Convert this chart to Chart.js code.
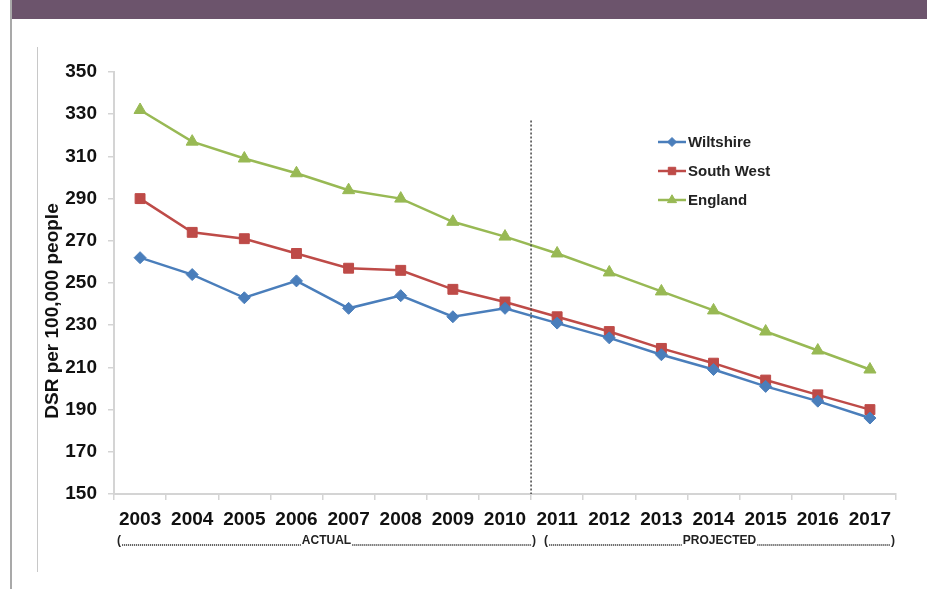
<!DOCTYPE html>
<html>
<head>
<meta charset="utf-8">
<script src="https://cdn.jsdelivr.net/npm/chart.js@4"></script>
<style>
  html, body { margin: 0; padding: 0; background: #fff; }
  body { width: 927px; height: 589px; position: relative; overflow: hidden; font-family: "Liberation Sans", Arial, sans-serif; }
  #leftBar { position: absolute; left: 10px; top: 0; width: 2px; height: 589px; background: #a9a9a9; }
  #header { position: absolute; left: 12px; top: 0; width: 915px; height: 19px; background: #6c546c; }
  #frame { position: absolute; left: 37px; top: 47px; width: 1px; height: 525px; background: #c8c8c8; }
  #wrap { position: absolute; left: 0; top: 0; width: 927px; height: 589px; }
</style>
</head>
<body>
<div id="leftBar"></div>
<div id="header"></div>
<div id="frame"></div>
<div id="wrap"><canvas id="dsrChart" width="927" height="589"></canvas></div>
<script>
// -----------------------------
// Data
// -----------------------------
const years = ["2003", "2004", "2005", "2006", "2007", "2008", "2009", "2010",
               "2011", "2012", "2013", "2014", "2015", "2016", "2017"];
const wiltshire = [262, 254, 243, 251, 238, 244, 234, 238, 231, 224, 216, 209, 201, 194, 186];
const southWest = [290, 274, 271, 264, 257, 256, 247, 241, 234, 227, 219, 212, 204, 197, 190];
const england   = [332, 317, 309, 302, 294, 290, 279, 272, 264, 255, 246, 237, 227, 218, 209];
const yTicks = [150, 170, 190, 210, 230, 250, 270, 290, 310, 330, 350];
const lastActual = 7; // index of 2010
const periodLabels = ["ACTUAL", "PROJECTED"];
const yTitle = "DSR per 100,000 people";

const BLUE = "#4a7ebb";
const RED = "#be4b48";
const GREEN = "#98b954";
const AXIS = "#d4d4d4";
const FONT = "'Liberation Sans', Arial, sans-serif";

// -----------------------------
// Extra drawing: divider, period brackets, legend, y title
// -----------------------------
const extras = {
  id: "extras",
  afterDatasetsDraw(chart) {
    const ctx = chart.ctx;
    const xs = chart.scales.x;
    const ys = chart.scales.y;
    const split = (xs.getPixelForValue(lastActual) + xs.getPixelForValue(lastActual + 1)) / 2;

    // dashed divider
    ctx.save();
    ctx.strokeStyle = "#444";
    ctx.lineWidth = 1.5;
    ctx.setLineDash([2, 2]);
    ctx.beginPath();
    ctx.moveTo(split, ys.getPixelForValue(327));
    ctx.lineTo(split, ys.bottom);
    ctx.stroke();
    ctx.restore();

    // period brackets
    const rowY = 541;
    const groups = [
      [xs.left + 3, split + 5, periodLabels[0]],
      [split + 13, xs.right - 1, periodLabels[1]]
    ];
    ctx.save();
    ctx.fillStyle = "#222";
    ctx.textBaseline = "middle";
    groups.forEach(([x0, x1, label]) => {
      ctx.font = "bold 12px " + FONT;
      ctx.textAlign = "left";
      ctx.fillText("(", x0, rowY);
      ctx.textAlign = "right";
      ctx.fillText(")", x1, rowY);
      ctx.textAlign = "center";
      const mid = (x0 + x1) / 2;
      const w = ctx.measureText(label).width;
      ctx.fillText(label, mid, rowY);
      ctx.strokeStyle = "#333";
      ctx.lineWidth = 1.6;
      ctx.setLineDash([1.2, 0.8]);
      ctx.beginPath();
      ctx.moveTo(x0 + 5, rowY + 4);
      ctx.lineTo(mid - w / 2 - 1, rowY + 4);
      ctx.moveTo(mid + w / 2 + 1, rowY + 4);
      ctx.lineTo(x1 - 5, rowY + 4);
      ctx.stroke();
    });
    ctx.restore();

    // legend
    ctx.save();
    chart.data.datasets.forEach((ds, i) => {
      const y = 142 + i * 29;
      ctx.strokeStyle = ds.borderColor;
      ctx.lineWidth = 2.5;
      ctx.beginPath();
      ctx.moveTo(658, y);
      ctx.lineTo(686, y);
      ctx.stroke();
      ctx.fillStyle = ds.borderColor;
      ctx.lineWidth = 1;
      Chart.helpers.drawPoint(ctx, {
        pointStyle: ds.pointStyle,
        rotation: 0,
        radius: ds.pointRadius * 0.75,
        borderWidth: 1
      }, 672, y);
      ctx.fillStyle = "#222";
      ctx.font = "bold 15px " + FONT;
      ctx.textAlign = "left";
      ctx.textBaseline = "middle";
      ctx.fillText(ds.label, 688, y + 1);
    });
    ctx.restore();

    // y axis title
    ctx.save();
    ctx.translate(53, 311);
    ctx.rotate(-Math.PI / 2);
    ctx.font = "bold 19px " + FONT;
    ctx.fillStyle = "#111";
    ctx.textAlign = "center";
    ctx.textBaseline = "middle";
    ctx.fillText(yTitle, 0, 0);
    ctx.restore();
  }
};

function series(label, data, color, style, radius) {
  return {
    label: label,
    data: data,
    borderColor: color,
    backgroundColor: color,
    borderWidth: 2.5,
    pointStyle: style,
    pointRadius: radius,
    pointBorderWidth: 1,
    tension: 0
  };
}

const dsrChart = new Chart(document.getElementById("dsrChart").getContext("2d"), {
  type: "line",
  data: {
    labels: years,
    datasets: [
      series("Wiltshire", wiltshire, BLUE, "rectRot", 6),
      series("South West", southWest, RED, "rect", 7),
      series("England", england, GREEN, "triangle", 7)
    ]
  },
  options: {
    responsive: false,
    animation: false,
    layout: { padding: { left: 40, top: 72, right: 31, bottom: 0 } },
    plugins: {
      legend: { display: false },
      tooltip: { enabled: false }
    },
    scales: {
      x: {
        offset: true,
        grid: { offset: true, drawOnChartArea: false, tickLength: 6, color: AXIS, lineWidth: 1.5 },
        border: { color: AXIS, width: 2 },
        ticks: {
          color: "#111",
          padding: 8,
          maxRotation: 0,
          autoSkip: false,
          font: { family: FONT, size: 19, weight: "bold" }
        },
        afterFit(scale) { scale.height = 95; }
      },
      y: {
        min: 150,
        max: 350,
        afterBuildTicks(scale) { scale.ticks = yTicks.map(v => ({ value: v })); },
        grid: { drawOnChartArea: false, tickLength: 6, color: AXIS, lineWidth: 1.5 },
        border: { color: AXIS, width: 2 },
        ticks: {
          color: "#111",
          padding: 11,
          font: { family: FONT, size: 19, weight: "bold" }
        },
        afterFit(scale) { scale.width = 74; }
      }
    }
  },
  plugins: [extras]
});
</script>
</body>
</html>
